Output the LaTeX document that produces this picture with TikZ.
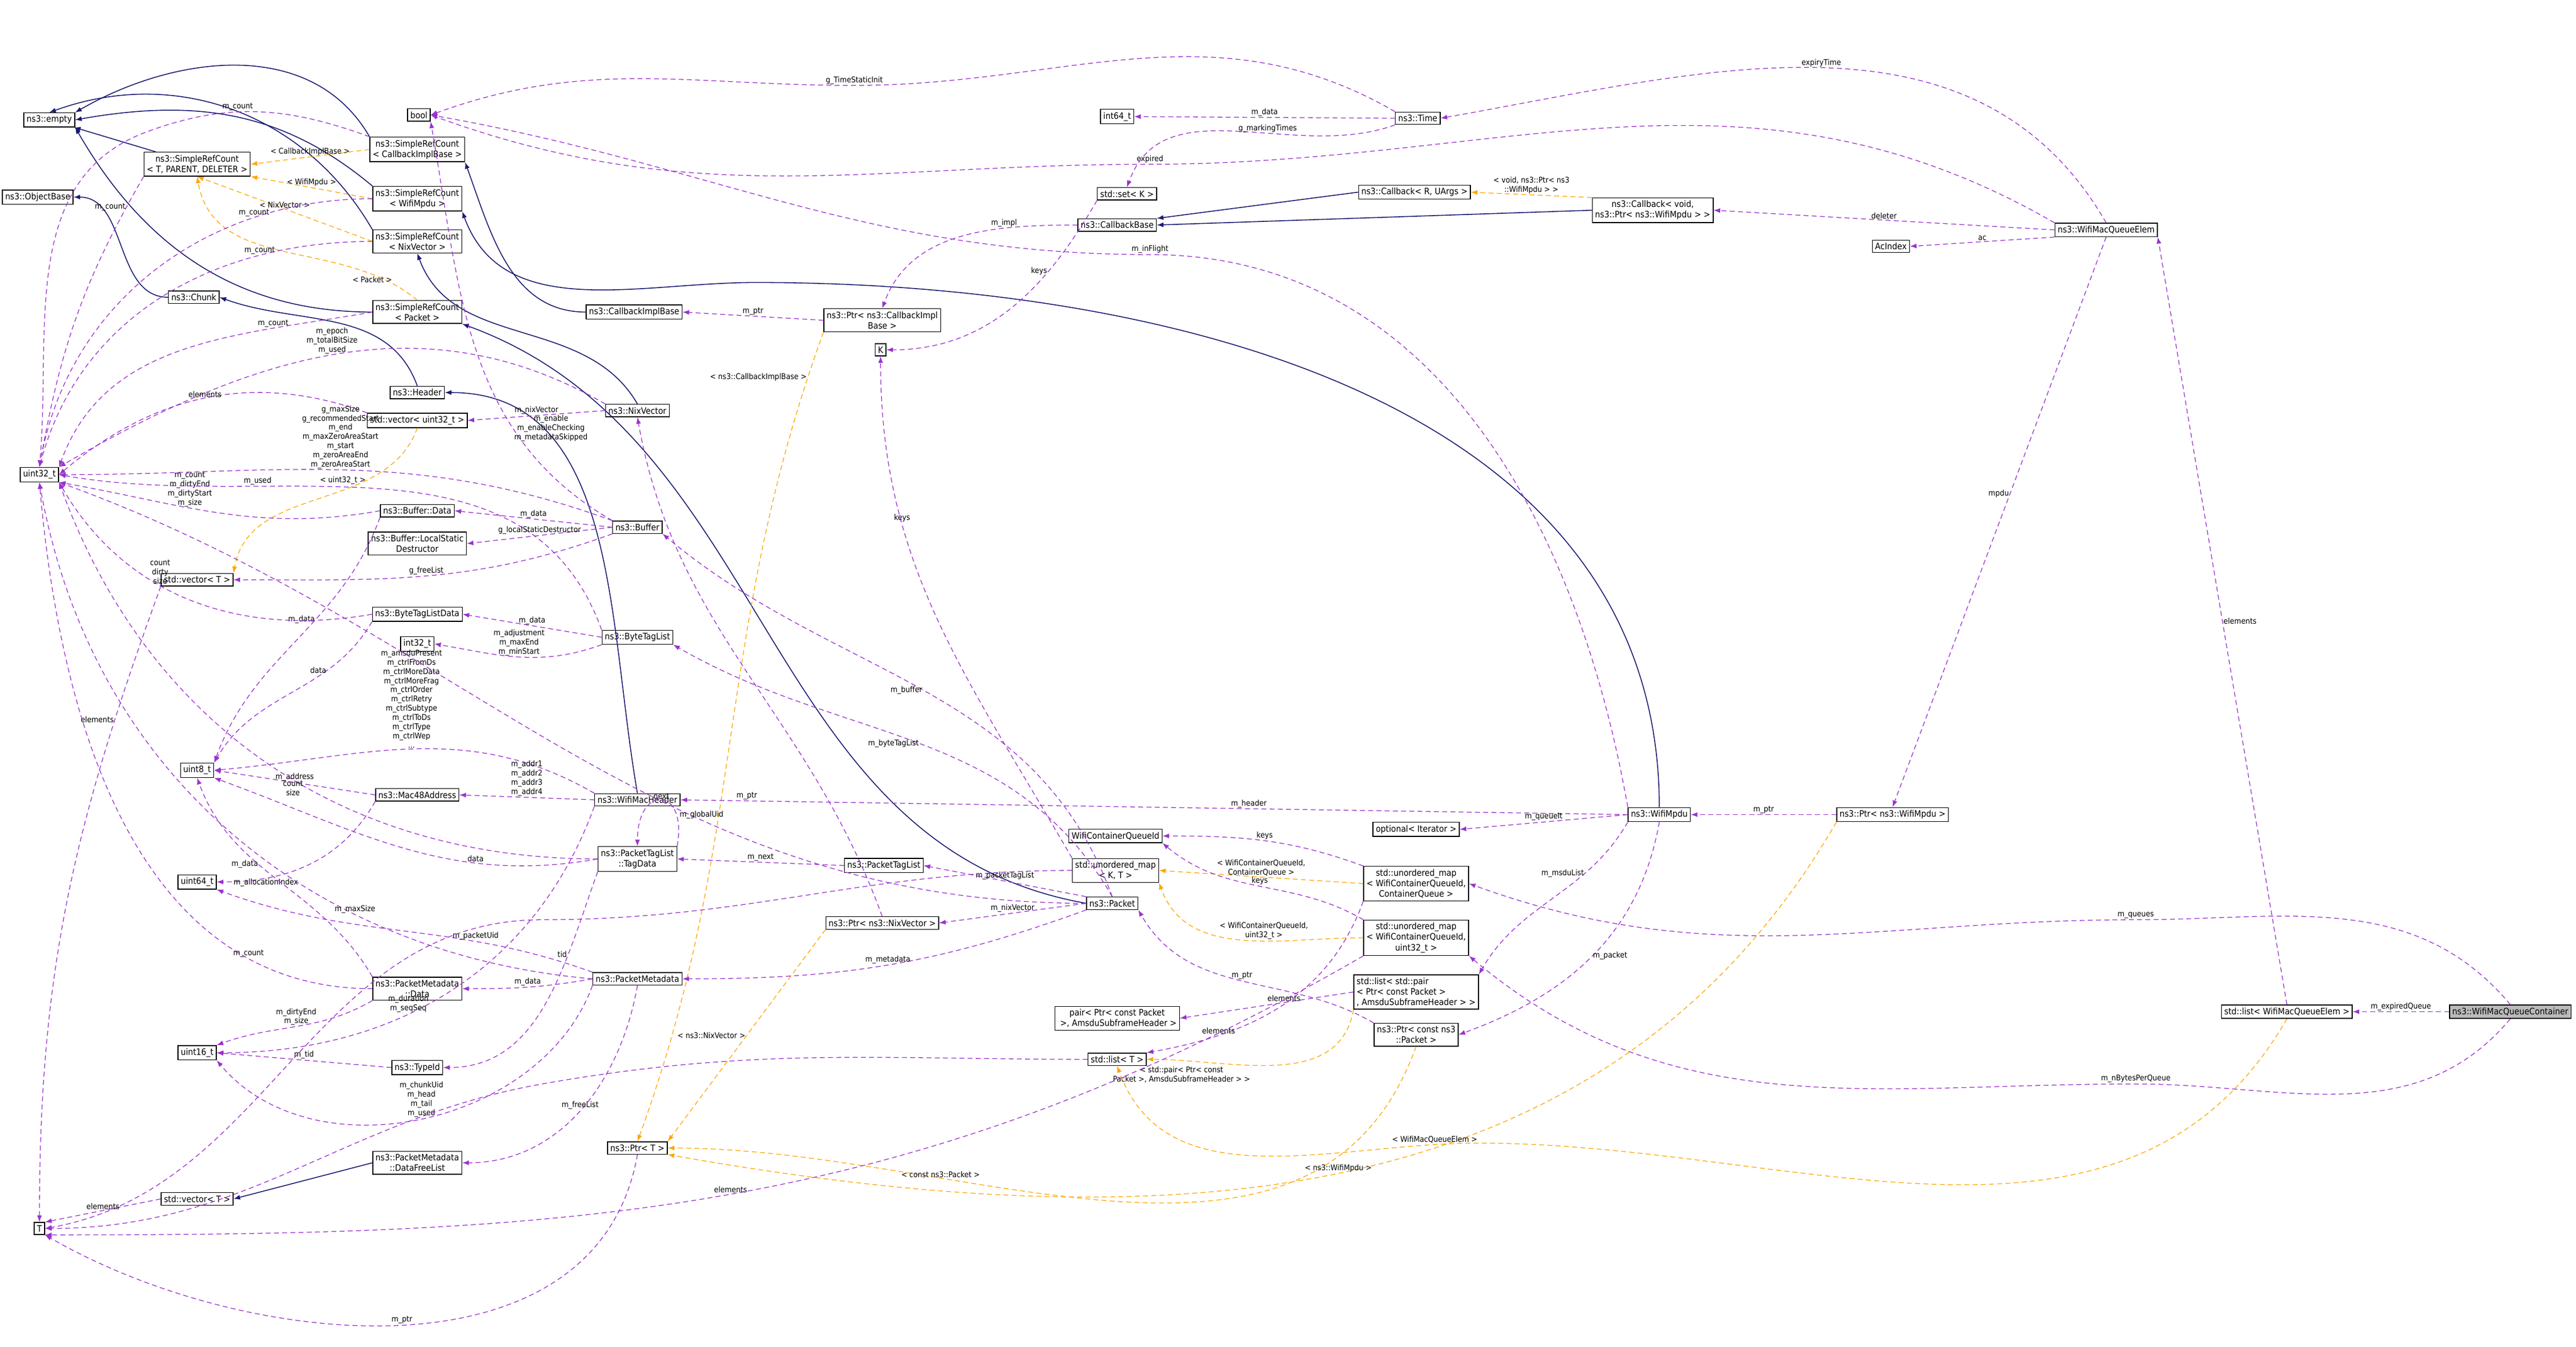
\documentclass[tikz,border=0pt]{standalone}
\usepackage{fontspec}
\setmainfont{DejaVu Sans Condensed}
\usetikzlibrary{arrows.meta}
\definecolor{mem}{HTML}{9A32CD}
\definecolor{inh}{HTML}{191970}
\definecolor{tpl}{HTML}{FFA500}
\tikzset{
 cls/.style={draw=black,fill=white,font=\fontsize{5.4}{6.4}\selectfont,inner sep=1.7pt,align=center,line width=0.5pt},
 lbl/.style={font=\fontsize{4.8}{5.6}\selectfont,align=center,inner sep=0.5pt},
 memb/.style={draw=mem,dashed,dash pattern=on 3pt off 2pt,line width=0.45pt,-{Latex[length=4pt,width=3pt]}},
 inhe/.style={draw=inh,line width=0.55pt,-{Latex[length=4pt,width=3pt]}},
 tmpl/.style={draw=tpl,dashed,dash pattern=on 3pt off 2pt,line width=0.45pt,-{Latex[length=4pt,width=3pt]}},
}
\begin{document}
\begin{tikzpicture}[x=1pt,y=-1pt]
\useasboundingbox (0,0) rectangle (1568,820);
% nodes
\node[cls] (empty) at (30,73) {ns3::empty};
\node[cls] (objb) at (23,120) {ns3::ObjectBase};
\node[cls] (srct) at (120,100) {ns3::SimpleRefCount\\ {}< T, PARENT, DELETER >};
\node[cls] (bool) at (255,70) {bool};
\node[cls] (srccb) at (254,91) {ns3::SimpleRefCount\\ {}< CallbackImplBase >};
\node[cls] (srcmp) at (254,121) {ns3::SimpleRefCount\\ {}< WifiMpdu >};
\node[cls] (srcnv) at (254,147) {ns3::SimpleRefCount\\ {}< NixVector >};
\node[cls] (chunk) at (118,181) {ns3::Chunk};
\node[cls] (srcpk) at (254,190) {ns3::SimpleRefCount\\ {}< Packet >};
\node[cls] (cbib) at (386,190) {ns3::CallbackImplBase};
\node[cls] (header) at (254,239) {ns3::Header};
\node[cls] (vecu32) at (254,256) {std::vector< uint32\_t >};
\node[cls] (nixv) at (388,250) {ns3::NixVector};
\node[cls] (u32) at (24,289) {uint32\_t};
\node[cls] (bufd) at (254,311) {ns3::Buffer::Data};
\node[cls] (buf) at (388,321) {ns3::Buffer};
\node[cls] (lsd) at (254,331) {ns3::Buffer::LocalStatic\\Destructor};
\node[cls] (vect) at (120,353) {std::vector< T >};
\node[cls] (btld) at (254,374) {ns3::ByteTagListData};
\node[cls] (btl) at (388,388) {ns3::ByteTagList};
\node[cls] (i32) at (254,392) {int32\_t};
\node[cls] (u8) at (120,469) {uint8\_t};
\node[cls] (mac) at (254,484) {ns3::Mac48Address};
\node[cls] (wmh) at (388,487) {ns3::WifiMacHeader};
\node[cls] (td) at (388,523) {ns3::PacketTagList\\::TagData};
\node[cls] (u64) at (120,537) {uint64\_t};
\node[cls] (ptl) at (538,527) {ns3::PacketTagList};
\node[cls] (pkt) at (677,550) {ns3::Packet};
\node[cls] (pnv) at (537,562) {ns3::Ptr< ns3::NixVector >};
\node[cls] (wcq) at (679,509) {WifiContainerQueueId};
\node[cls] (umkt) at (679,530) {std::unordered\_map\\ {}< K, T >};
\node[cls] (pm) at (388,596) {ns3::PacketMetadata};
\node[cls] (pmd) at (254,602) {ns3::PacketMetadata\\::Data};
\node[cls] (u16) at (120,641) {uint16\_t};
\node[cls] (tid) at (254,650) {ns3::TypeId};
\node[cls] (ptrt) at (388,699) {ns3::Ptr< T >};
\node[cls] (dfl) at (254,708) {ns3::PacketMetadata\\::DataFreeList};
\node[cls] (vect2) at (120,730) {std::vector< T >};
\node[cls] (T) at (24,748) {T};
\node[cls] (i64) at (680,71) {int64\_t};
\node[cls] (time) at (863,72) {ns3::Time};
\node[cls] (setk) at (686,118) {std::set< K >};
\node[cls] (cbru) at (861,117) {ns3::Callback< R, UArgs >};
\node[cls] (cbb) at (680,137) {ns3::CallbackBase};
\node[cls] (cbv) at (1006,128) {ns3::Callback< void,\\ ns3::Ptr< ns3::WifiMpdu > >};
\node[cls] (wmqe) at (1282,140) {ns3::WifiMacQueueElem};
\node[cls] (aci) at (1151,150) {AcIndex};
\node[cls] (pcib) at (537,195) {ns3::Ptr< ns3::CallbackImpl\\Base >};
\node[cls] (K) at (536,213) {K};
\node[cls] (mpdu) at (1010,496) {ns3::WifiMpdu};
\node[cls] (opt) at (862,505) {optional< Iterator >};
\node[cls] (pmpdu) at (1152,496) {ns3::Ptr< ns3::WifiMpdu >};
\node[cls] (umcq) at (862,538) {std::unordered\_map\\ {}< WifiContainerQueueId,\\ ContainerQueue >};
\node[cls] (umu32) at (862,571) {std::unordered\_map\\ {}< WifiContainerQueueId,\\ uint32\_t >};
\node[cls,align=left] (lpair) at (862,604) {std::list< std::pair\\ {}< Ptr< const Packet >\\ , AmsduSubframeHeader > >};
\node[cls] (pair) at (680,620) {pair< Ptr< const Packet\\ {} >, AmsduSubframeHeader >};
\node[cls] (pcp) at (862,630) {ns3::Ptr< const ns3\\::Packet >};
\node[cls] (listt) at (680,645) {std::list< T >};
\node[cls] (lwqe) at (1392,616) {std::list< WifiMacQueueElem >};
\node[cls,fill=black!27] (wmqc) at (1528,616) {ns3::WifiMacQueueContainer};

% inheritance
\draw[inhe] (chunk) to[out=180,in=0] (objb);
\draw[inhe] (srct) -- (empty);
\draw[inhe] (srccb.north west) to[out=120,in=30] (empty.north east);
\draw[inhe] (srcmp.north west) to[out=140,in=10] (empty.east);
\draw[inhe] (srcnv.north west) to[out=120,in=20] (empty.north);
\draw[inhe] (srcpk.west) to[out=180,in=-60] (empty.south east);
\draw[inhe] (cbib.west) to[out=180,in=-70] (srccb.south east);
\draw[inhe] (mpdu.north) to[out=90,in=0] (460,172) to[out=180,in=-70] (srcmp.south east);
\draw[inhe] (nixv.north) to[out=120,in=-70] (srcnv.south);
\draw[inhe] (pkt.west) to[out=170,in=-20] (srcpk.south east);
\draw[inhe] (header.north) to[out=110,in=-20] (chunk.east);
\draw[inhe] (wmh.north) to[out=100,in=0] (header.east);
\draw[inhe] (cbru.west) -- (cbb.north east);
\draw[inhe] (cbv.west) -- (cbb.east);
\draw[inhe] (dfl.west) -- (vect2.east);

% template
\tikzset{tl/.style={lbl}}
\draw[tmpl] (srccb.west) -- node[tl,above]{< CallbackImplBase >} (srct.east);
\draw[tmpl] (srcmp.west) -- node[tl,above]{< WifiMpdu >} (srct.south east);
\draw[tmpl] (srcnv.west) -- node[tl,above]{< NixVector >} (srct.south);
\draw[tmpl] (srcpk.north) to[out=140,in=-80] node[tl,pos=0.1,above left]{< Packet >} (srct.south);
\draw[tmpl] (vecu32.south) to[out=-110,in=80] node[tl,pos=0.3,left]{< uint32\_t >} (vect.north east);
\draw[tmpl] (cbv.north west) -- node[tl,above]{< void, ns3::Ptr< ns3\\::WifiMpdu > >} (cbru.east);
\draw[tmpl] (pcib.south west) to[out=-110,in=70] node[tl,pos=0.05,left]{< ns3::CallbackImplBase >} (ptrt.north);
\draw[tmpl] (pnv.south west) -- node[tl,left]{< ns3::NixVector >} (ptrt.north east);
\draw[tmpl] (pcp.south) to[out=-110,in=0] node[tl,pos=0.7,above]{< const ns3::Packet >} (ptrt.east);
\draw[tmpl] (pmpdu.south west) to[out=-120,in=-10] node[tl,pos=0.5,above]{< ns3::WifiMpdu >} (ptrt.south east);
\draw[tmpl] (umcq.west) -- node[tl,above]{< WifiContainerQueueId,\\ContainerQueue >} (umkt.east);
\draw[tmpl] (umu32.west) to[out=180,in=-70] node[tl,pos=0.4,above]{< WifiContainerQueueId,\\uint32\_t >} (umkt.south east);
\draw[tmpl] (lpair.south west) to[out=-100,in=0] node[tl,pos=0.6,below left]{< std::pair< Ptr< const\\Packet >, AmsduSubframeHeader > >} (listt.east);
\draw[tmpl] (lwqe.south) to[out=-120,in=0] (900,696) to[out=180,in=-70] node[tl,pos=0.1,above]{< WifiMacQueueElem >} (listt.south);

% members
\draw[memb] (srct.south west) to[out=-120,in=80] node[lbl,pos=0.1,left]{m\_count} (u32.north);
\draw[memb] (srccb.north west) to[out=160,in=20] node[lbl,pos=0.6,above]{m\_count} (90,80) to[out=200,in=85] (u32.north);
\draw[memb] (srcmp.west) to[out=180,in=80] node[lbl,pos=0.25,above]{m\_count} (u32.north);
\draw[memb] (srcnv.west) to[out=180,in=75] node[lbl,pos=0.25,above]{m\_count} (u32.north);
\draw[memb] (srcpk.west) to[out=190,in=70] node[lbl,pos=0.25,above]{m\_count} (u32.north east);
\draw[memb] (time.north west) to[out=150,in=0] (520,52) node[lbl,above]{g\_TimeStaticInit} to[out=180,in=20] (bool.east);
\draw[memb] (wmqe.north west) to[out=150,in=0] (700,100) node[lbl,above]{expired} to[out=180,in=-20] (bool.east);
\draw[memb] (mpdu.north west) to[out=100,in=0] (700,155) node[lbl,above]{m\_inFlight} to[out=180,in=-10] (bool.east);
\draw[memb] (buf.north west) to[out=150,in=-80] node[lbl,pos=0.3,right]{m\_enable\\m\_enableChecking\\m\_metadataSkipped} (bool.south east);
\draw[memb] (nixv.north west) to[out=150,in=30] node[lbl,pos=0.5,above]{m\_epoch\\m\_totalBitSize\\m\_used} (u32.north east);
\draw[memb] (vecu32.north west) to[out=160,in=40] node[lbl,pos=0.5,above]{elements} (u32.east);
\draw[memb] (nixv.west) -- node[lbl,above]{m\_nixVector} (vecu32.east);
\draw[memb] (buf.north west) to[out=160,in=0] node[lbl,pos=0.5,above]{g\_maxSize\\g\_recommendedStart\\m\_end\\m\_maxZeroAreaStart\\m\_start\\m\_zeroAreaEnd\\m\_zeroAreaStart} (u32.east);
\draw[memb] (bufd.west) to[out=190,in=-10] node[lbl,pos=0.6,above]{m\_count\\m\_dirtyEnd\\m\_dirtyStart\\m\_size} (u32.south east);
\draw[memb] (btl.north west) to[out=110,in=-10] node[lbl,pos=0.7,above]{m\_used} (u32.east);
\draw[memb] (buf.west) -- node[lbl,above]{m\_data} (bufd.east);
\draw[memb] (buf.west) -- node[lbl,above]{g\_localStaticDestructor} (lsd.east);
\draw[memb] (buf.south west) to[out=200,in=0] node[lbl,pos=0.5,above]{g\_freeList} (vect.east);
\draw[memb] (bufd.south west) to[out=-110,in=70] node[lbl,pos=0.4,left]{m\_data} (u8.north east);
\draw[memb] (vect.south west) to[out=-110,in=90] node[lbl,pos=0.2,left]{elements} (T.north);
\draw[memb] (btld.west) to[out=190,in=-60] node[lbl,pos=0.6,above]{count\\dirty\\size} (u32.south east);
\draw[memb] (btld.south west) to[out=-120,in=60] node[lbl,pos=0.3,left]{data} (u8.north east);
\draw[memb] (btl.west) -- node[lbl,above]{m\_data} (btld.east);
\draw[memb] (btl.south west) to[out=200,in=-10] node[lbl,pos=0.5,above]{m\_adjustment\\m\_maxEnd\\m\_minStart} (i32.east);
\draw[memb] (wmh.north west) to[out=150,in=5] node[lbl,pos=0.5,above]{m\_amsduPresent\\m\_ctrlFromDs\\m\_ctrlMoreData\\m\_ctrlMoreFrag\\m\_ctrlOrder\\m\_ctrlRetry\\m\_ctrlSubtype\\m\_ctrlToDs\\m\_ctrlType\\m\_ctrlWep\\...} (u8.east);
\draw[memb] (mac.west) -- node[lbl,above]{m\_address} (u8.east);
\draw[memb] (wmh.west) -- node[lbl,above]{m\_addr1\\m\_addr2\\m\_addr3\\m\_addr4} (mac.east);
\draw[memb] (td.west) to[out=190,in=-20] node[lbl,pos=0.3,above]{data} (u8.south east);
\draw[memb] (td.west) to[out=180,in=-70] node[lbl,pos=0.45,below]{count\\size} (u32.south east);
\draw[memb] (td.north east) to[out=80,in=90,looseness=4] node[lbl,above]{next} (td.north);
\draw[memb] (ptl.west) -- node[lbl,above]{m\_next} (td.east);
\draw[memb] (mac.south west) to[out=-120,in=0] node[lbl,pos=0.75,below]{m\_allocationIndex} (u64.east);
\draw[memb] (pmd.north west) to[out=120,in=-70] node[lbl,pos=0.6,left]{m\_data} (u8.south);
\draw[memb] (pkt.west) to[out=180,in=-20] node[lbl,pos=0.35,above]{m\_globalUid} (u32.south east);
\draw[memb] (pm.north west) to[out=160,in=-20] node[lbl,pos=0.3,above]{m\_packetUid} (u64.south east);
\draw[memb] (pm.west) to[out=175,in=-80] node[lbl,pos=0.3,above]{m\_maxSize} (u32.south);
\draw[memb] (pmd.west) to[out=180,in=-85] node[lbl,pos=0.2,above]{m\_count} (u32.south);
\draw[memb] (pmd.south west) to[out=-150,in=20] node[lbl,pos=0.5,above]{m\_dirtyEnd\\m\_size} (u16.north east);
\draw[memb] (wmh.south west) to[out=-110,in=0] node[lbl,pos=0.6,above]{m\_duration\\m\_seqSeq} (u16.east);
\draw[memb] (td.south west) to[out=-110,in=0] node[lbl,pos=0.3,left]{tid} (tid.east);
\draw[memb] (tid.west) -- node[lbl,above]{m\_tid} (u16.east);
\draw[memb] (pm.south west) to[out=-110,in=-50] node[lbl,pos=0.5,above]{m\_chunkUid\\m\_head\\m\_tail\\m\_used} (u16.south east);
\draw[memb] (pm.west) to[out=190,in=0] node[lbl,pos=0.5,above]{m\_data} (pmd.east);
\draw[memb] (pm.south) to[out=-100,in=0] node[lbl,pos=0.5,above]{m\_freeList} (dfl.east);
\draw[memb] (pkt.south west) to[out=200,in=0] node[lbl,pos=0.5,above]{m\_metadata} (pm.east);
\draw[memb] (pkt.west) -- node[lbl,above]{m\_nixVector} (pnv.east);
\draw[memb] (pnv.north) to[out=110,in=-80] (nixv.south);
\draw[memb] (pkt.north west) -- node[lbl,above]{m\_packetTagList} (ptl.east);
\draw[memb] (pkt.north) to[out=120,in=-30] node[lbl,pos=0.5,left]{m\_byteTagList} (btl.south east);
\draw[memb] (pkt.north) to[out=110,in=-40] node[lbl,pos=0.5,left]{m\_buffer} (buf.south east);
\draw[memb] (mpdu.west) -- node[lbl,pos=0.4,above]{m\_header} node[lbl,pos=0.93,above]{m\_ptr} (wmh.east);
\draw[memb] (pmpdu.west) -- node[lbl,above]{m\_ptr} (mpdu.east);
\draw[memb] (mpdu.west) -- node[lbl,above]{m\_queueIt} (opt.east);
\draw[memb] (mpdu.south west) to[out=-120,in=60] node[lbl,pos=0.3,left]{m\_msduList} (lpair.north east);
\draw[memb] (mpdu.south) to[out=-100,in=20] node[lbl,pos=0.5,right]{m\_packet} (pcp.east);
\draw[memb] (pcp.north west) to[out=150,in=-60] node[lbl,pos=0.5,above]{m\_ptr} (pkt.south east);
\draw[memb] (umcq.north west) to[out=160,in=0] node[lbl,pos=0.5,above]{keys} (wcq.east);
\draw[memb] (umu32.north west) to[out=150,in=-40] node[lbl,pos=0.5,above]{keys} (wcq.south east);
\draw[memb] (umkt.north west) to[out=120,in=-90] node[lbl,pos=0.7,above]{keys} (K.south);
\draw[memb] (umkt.west) to[out=180,in=0] (330,560) to[out=180,in=10] (T.east);
\draw[memb] (setk.south west) to[out=-120,in=0] node[lbl,pos=0.3,left]{keys} (K.east);
\draw[memb] (lpair.west) -- node[lbl,pos=0.4,above]{elements} (pair.east);
\draw[memb] (umcq.south west) to[out=-110,in=10] node[lbl,pos=0.75,above]{elements} (listt.north east);
\draw[memb] (listt.west) to[out=180,in=10] (330,660) to[out=190,in=0] (T.east);
\draw[memb] (umu32.south west) to[out=-150,in=0] node[lbl,pos=0.5,above]{elements} (T.south east);
\draw[memb] (vect2.west) -- node[lbl,above]{elements} (T.north east);
\draw[memb] (ptrt.south) to[out=-100,in=-30] node[lbl,pos=0.5,above]{m\_ptr} (T.south east);
\draw[memb] (time.west) -- node[lbl,above]{m\_data} (i64.east);
\draw[memb] (time.south west) to[out=-160,in=70] node[lbl,pos=0.4,above]{g\_markingTimes} (setk.north);
\draw[memb] (wmqe.north) to[out=120,in=10] node[lbl,pos=0.5,above]{expiryTime} (time.east);
\draw[memb] (wmqe.west) -- node[lbl,above]{deleter} (cbv.east);
\draw[memb] (wmqe.south west) -- node[lbl,above]{ac} (aci.east);
\draw[memb] (wmqe.south) -- node[lbl,pos=0.45,left]{mpdu} (pmpdu.north);
\draw[memb] (lwqe.north) -- node[lbl,pos=0.5,right]{elements} (wmqe.south east);
\draw[memb] (wmqc.west) -- node[lbl,above]{m\_expiredQueue} (lwqe.east);
\draw[memb] (wmqc.north) to[out=130,in=0] (1300,560) node[lbl,above]{m\_queues} to[out=180,in=-20] (umcq.east);
\draw[memb] (wmqc.south) to[out=-130,in=0] (1300,660) node[lbl,above]{m\_nBytesPerQueue} to[out=180,in=-40] (umu32.south east);
\draw[memb] (cbb.west) to[out=180,in=70] node[lbl,pos=0.3,above]{m\_impl} (pcib.north);
\draw[memb] (pcib.west) -- node[lbl,above]{m\_ptr} (cbib.east);
\end{tikzpicture}
\end{document}
